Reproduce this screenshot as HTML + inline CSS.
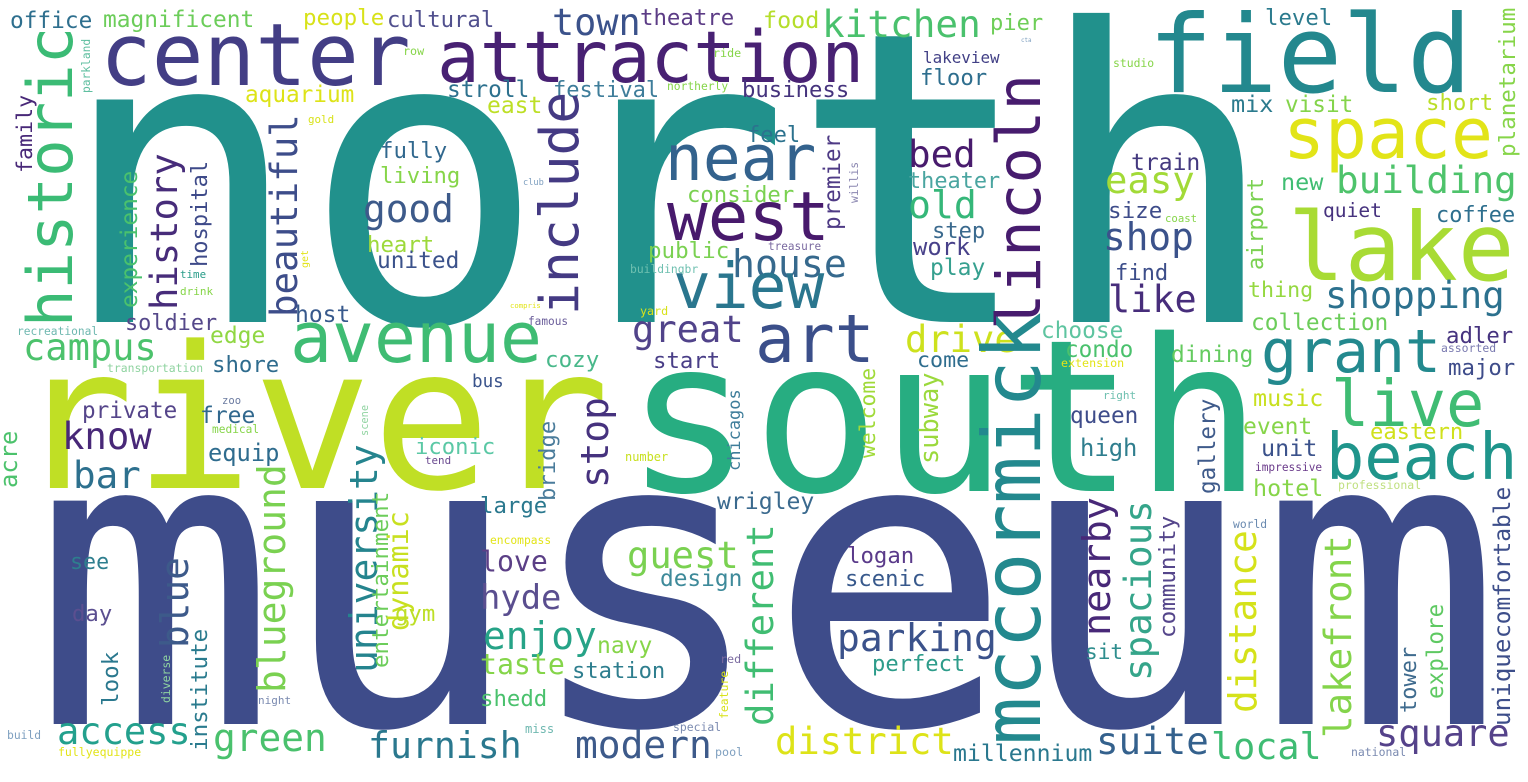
<!DOCTYPE html>
<html><head><meta charset="utf-8"><style>
html,body{margin:0;padding:0;background:#fff;overflow:hidden;}
svg{display:block;}
text{font-family:"DejaVu Sans Mono","Liberation Mono",monospace;}
</style></head><body>
<svg id="cloud" width="1528" height="782" viewBox="0 0 1528 782" xmlns="http://www.w3.org/2000/svg">
<rect width="1528" height="782" fill="#ffffff"/>
</svg>
<script>
// words, layout (left x / baseline x, baseline y / bottom y, ink length), rotation, color
const words = ["north","museum","river","south","center","attraction","field","lake","space","grant","live","beach",
"office","magnificent","people","cultural","historic","family","parkland","history","hospital","experience","beautiful",
"aquarium","stroll","east","gold","row","fully","living","good","heart","united","time","drink","host","soldier","recreational",
"campus","edge","avenue","shore","transportation","bus",
"town","theatre","food","kitchen","pier","ride","lakeview","floor","festival","northerly","business","include","near","feel",
"consider","west","premier","willis","club","public","house","buildingbr","treasure","view","yard","famous","great","art","cozy",
"start","drive","come","bed","theater","old","step","work","play","lincoln","mccormick",
"level","cta","studio","planetarium","mix","visit","short","train","easy","building","new","airport","size","coast","quiet",
"coffee","shop","find","like","thing","shopping","collection","choose","condo","dining","extension","adler","assorted","major",
"private","free","zoo","medical","scene","know","acre","bar","equip","iconic","tend","blueground","university","entertainment",
"dynamic","gym","see","day","blue","look","institute","diverse","night","build","access","fullyequippe","green","furnish",
"stop","bridge","chicagos","number","welcome","subway","wrigley","large","encompass","love","hyde","guest","design","different",
"logan","scenic","enjoy","navy","taste","station","shedd","red","feature","parking","perfect","miss","special","pool","modern",
"district","millennium",
"right","queen","high","gallery","music","event","eastern","unit","impressive","hotel","professional","world","nearby","spacious",
"community","sit","distance","lakefront","tower","explore","unique","comfortable","suite","local","square","national","get","compris"];
const posX = [58,32,15,625,100,437,1148,1288,1283,1261,1331,1326,
10,103,303,387,72,32,90,177,207,137,297,
245,447,487,308,403,380,380,363,367,377,180,180,295,125,17,
23,210,290,212,107,472,
552,640,763,822,990,713,923,920,553,667,742,578,665,747,
687,667,840,858,523,648,732,630,768,673,640,528,632,755,545,
653,905,917,908,908,908,932,913,930,1040,1040,
1265,1021,1113,1515,1231,1285,1426,1131,1105,1336,1281,1263,1108,1165,1323,
1436,1103,1115,1108,1248,1325,1251,1041,1065,1171,1061,1446,1441,1448,
82,200,222,212,368,62,17,73,208,415,425,285,377,388,
408,395,70,72,188,118,207,170,258,7,57,58,213,368,
608,555,740,625,875,938,717,480,490,480,480,627,660,773,
847,845,483,597,480,572,480,720,728,837,872,525,673,715,575,
775,953,
1103,1070,1080,1215,1253,1243,1370,1261,1255,1253,1338,1233,1110,1151,
1175,1085,1256,1351,1416,1443,1510,1510,1096,1211,1376,1351,308,510];
const posY = [322,724,488,491,85,82,92,280,158,372,426,479,
28,27,25,27,327,173,93,310,267,308,317,
102,97,113,123,55,158,183,222,252,268,278,295,322,330,335,
360,343,362,372,372,387,
35,25,28,37,30,57,63,85,97,90,97,315,180,142,
202,240,230,203,185,258,277,273,250,308,315,325,342,362,367,
368,352,367,167,188,218,238,255,275,330,745,
25,42,67,157,112,112,110,170,193,193,190,270,218,222,217,
222,250,280,312,297,308,330,338,357,362,367,343,352,375,
418,423,404,433,436,449,488,488,461,454,464,693,673,668,
631,621,569,621,648,706,751,703,704,739,744,756,751,758,
488,501,471,461,458,464,509,513,544,571,609,568,586,726,
563,586,649,653,674,678,706,663,719,651,671,733,731,756,758,
754,761,
399,423,456,494,406,434,439,456,471,496,489,528,636,681,
638,659,713,738,713,699,726,638,754,759,746,756,268,308];
const lens = [1180,1430,575,616,302,420,313,217,203,174,147,185,
80,149,79,105,294,76,53,153,104,135,199,
107,80,53,25,20,65,78,87,65,80,25,32,53,90,80,
130,53,245,65,95,30,
85,92,54,155,51,27,75,65,104,60,105,218,145,51,
105,156,93,40,20,79,111,67,52,145,27,39,108,113,52,
65,108,50,64,90,65,51,55,53,250,425,
65,10,40,147,40,66,65,67,86,177,40,90,52,31,57,
77,87,51,85,63,176,135,80,66,80,62,65,54,65,
93,53,18,46,30,86,55,64,69,78,25,225,225,174,
117,38,37,38,87,52,120,47,32,33,130,82,110,150,
87,78,80,42,88,89,95,65,60,65,78,108,80,198,
65,78,110,53,82,91,65,20,47,156,91,28,47,27,133,
175,137,
32,66,55,93,68,67,91,54,66,68,82,33,135,177,
120,36,179,199,64,93,85,149,109,107,130,54,17,30];
const rots = [0,0,0,0,0,0,0,0,0,0,0,0,
0,0,0,0,1,1,1,1,1,1,1,
0,0,0,0,0,0,0,0,0,0,0,0,0,0,0,
0,0,0,0,0,0,
0,0,0,0,0,0,0,0,0,0,0,1,0,0,
0,0,1,1,0,0,0,0,0,0,0,0,0,0,0,
0,0,0,0,0,0,0,0,0,1,1,
0,0,0,1,0,0,0,0,0,0,0,1,0,0,0,
0,0,0,0,0,0,0,0,0,0,0,0,0,0,
0,0,0,0,1,0,1,0,0,0,0,1,1,1,
1,0,0,0,1,1,1,1,0,0,0,0,0,0,
1,1,1,0,1,1,0,0,0,0,0,0,0,1,
0,0,0,0,0,0,0,0,1,0,0,0,0,0,0,
0,0,
0,0,0,1,0,0,0,0,0,0,0,0,1,1,
1,0,1,1,1,1,1,1,0,0,0,0,1,0];
const colors = ["#21918c","#3e4c8a","#c0df25","#27ad81","#433e85","#482173","#23888e","#a8db34","#e2e418","#23898e","#3fbc73","#1f958b",
"#2e6f8e","#6ccd5a","#d8e219","#51508e","#3bbb75","#482878","#5fbfa0","#472c7a","#3e4a89","#4ac16d","#3d4d8a",
"#dde318","#2d718e","#bddf26","#d8e219","#86d549","#31688e","#86d549","#3d5a8a","#9dd93b","#3b528b","#2a9d8a","#86d549","#38598c","#55488a","#6fb8b0",
"#4cc26c","#90d743","#3fbc73","#2f6c8e","#8fd3a0","#3a538b",
"#3b528b","#5c3c86","#b5de2b","#4ac16d","#6ece58","#86d549","#424086","#2e6e8e","#3e7d9a","#86d549","#45337d","#443a83","#33628d","#2c728e",
"#7ad151","#481a6c","#4e3a85","#8a86b0","#7fa0c0","#7ad151","#36698d","#6fc0b0","#7a6aa0","#2a768e","#d8e219","#6a5d9a","#51438a","#3b4f8a","#48b88a",
"#493e87","#cde11d","#2f6d8e","#481b6d","#4aa5a0","#35b779","#3b6a8e","#48418a","#36a08f","#471c6e","#23898e",
"#2c7b8e","#7fa0c0","#86d549","#86d549","#2c7b8e","#84d44b","#bade28","#44397f","#a2da37","#4ec36b","#40bd72","#7ad151","#3e4c8a","#86d549","#46327e",
"#2e6f8e","#3b528b","#3d4e8a","#472d7b","#95d840","#2c718e","#6ccd5a","#5ec4a0","#4ac16d","#64cb5f","#e2e418","#46337f","#7a7ab0","#3e4c8a",
"#55458a","#31688e","#6a7aa0","#86d549","#8fd3a0","#482878","#4cc26c","#2d708e","#2f6c8e","#5bc8a5","#6a4a90","#7ad151","#25848e","#6ccd5a",
"#c8e020","#bddf26","#2e7e8e","#5b4f90","#3d5a8a","#2a788e","#2a7b8e","#8fd3a0","#7a8ab0","#7fa0c0","#23a08d","#e2e418","#4ac16d","#2a788e",
"#46327e","#4a7c9b","#3e7d9a","#c8e020","#a0da39","#9bd93c","#3b6a8e","#2a788e","#e2e418","#5b3f86","#5a4e8f","#7ad151","#3e8a9a","#40bd72",
"#5a3a8a","#38598c","#26a387","#86d549","#85d54a","#2e7e8e","#4ac16d","#7a6aa0","#d8e219","#3b528b","#2d9c8a","#6fb8b0","#7a8ab0","#7fa0c0","#3d5a8a",
"#dde318","#2a788e",
"#6fc0b0","#3e4c8a","#2f7e8e","#3f5b8b","#c8e020","#86d549","#d0e11c","#3b528b","#6a3a8a","#86d549","#c0e080","#6a8ab0","#482878","#35a58a",
"#55468b","#2f8e8e","#d5e21a","#84d44b","#3f6b8e","#5ec962","#3d4e8a","#3d4e8a","#34618d","#3fbc73","#55428a","#7a8ab0","#e2e418","#e2e418"];

const svg = document.getElementById('cloud');
const NS = 'http://www.w3.org/2000/svg';
for (let i = 0; i < words.length; i++) {
  const w = words[i];
  const n = w.length;
  const fs = lens[i] / (0.6 * n - 0.1);
  const t = document.createElementNS(NS, 'text');
  t.textContent = w;
  t.setAttribute('x', posX[i]);
  t.setAttribute('y', posY[i]);
  t.setAttribute('font-size', fs.toFixed(2));
  t.setAttribute('fill', colors[i]);
  t.setAttribute('textLength', (lens[i] + 0.1 * fs).toFixed(2));
  t.setAttribute('lengthAdjust', 'spacingAndGlyphs');
  if (rots[i]) {
    t.setAttribute('transform', 'rotate(-90 ' + posX[i] + ' ' + posY[i] + ')');
  }
  
  
  svg.appendChild(t);
}
</script>
</body></html>
